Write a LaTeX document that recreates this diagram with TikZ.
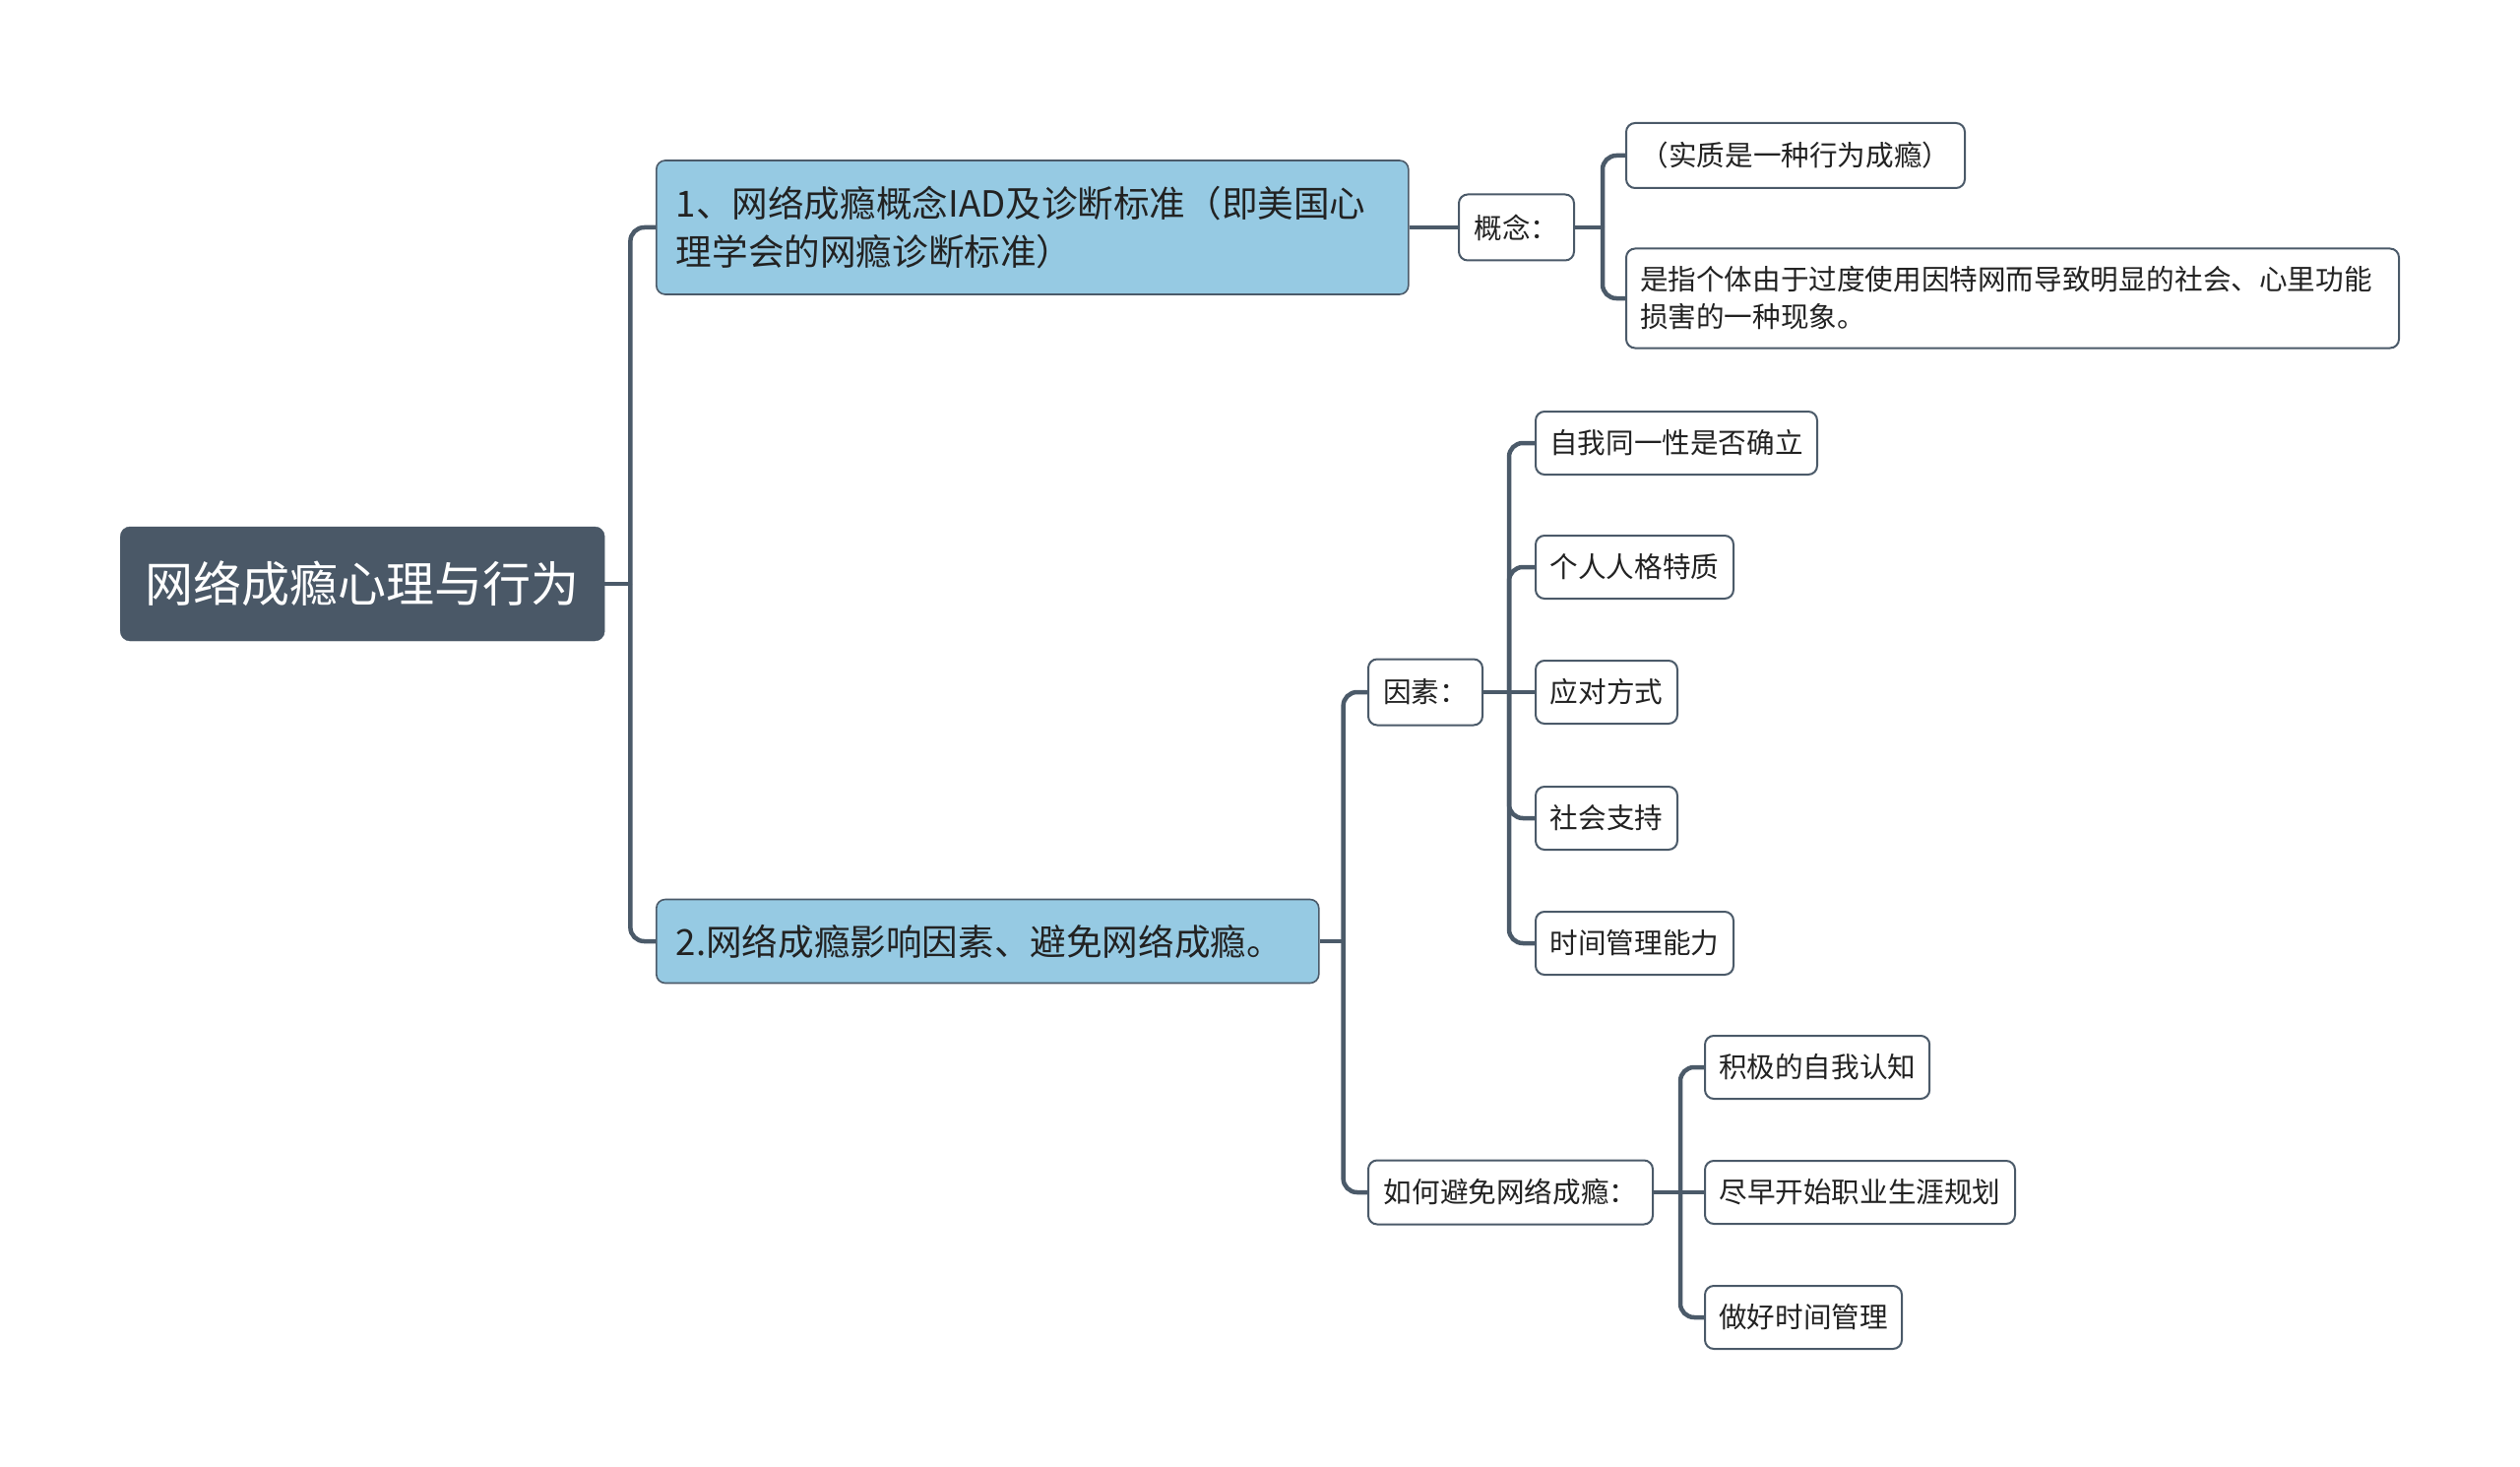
\documentclass[tikz,border=0pt]{standalone}
\usepackage{fontspec}
\setmainfont{Noto Sans CJK SC}
\definecolor{edge}{HTML}{4B5A69}
\definecolor{rootfill}{HTML}{4A5867}
\definecolor{lblue}{HTML}{96CAE3}
\definecolor{txt}{HTML}{222222}
\begin{document}
\begin{tikzpicture}[x=1pt,y=-1pt,
  rootbox/.style={fill=rootfill, draw=rootfill, rounded corners=10pt, text=white,
    font=\fontsize{49}{59}\selectfont, minimum width=492pt, minimum height=116pt,
    inner sep=0pt, anchor=west},
  lonebox/.style={fill=lblue, draw=edge, line width=1.6pt, rounded corners=9pt,
    font=\fontsize{36.6}{49}\selectfont, align=left, anchor=west, inner xsep=20pt,
    inner ysep=0pt, text=txt},
  leaf/.style={fill=white, draw=edge, line width=2pt, rounded corners=9pt,
    font=\fontsize{28.6}{38}\selectfont, anchor=west, inner xsep=14pt, inner ysep=0pt,
    minimum height=64pt, text=txt},
  conn/.style={draw=edge, line width=4.5pt, rounded corners=14pt}
]
\useasboundingbox[fill=white] (0,0) rectangle (2560,1490);
\begin{scope}[yshift=-3pt]
% nodes
\node[rootbox] (root) at (122,590) {网络成瘾心理与行为};
\node[lonebox, text width=724pt, minimum height=136pt] (n1) at (666,228)
  {1、网络成瘾概念IAD及诊断标准（即美国心\\理学会的网瘾诊断标准）};
\node[lonebox, text width=633pt, minimum height=85pt] (n2) at (666,953)
  {2.网络成瘾影响因素、避免网络成瘾。};

\node[leaf, minimum width=117pt, minimum height=67pt] (gn) at (1481,228) {概念：};
\node[leaf, minimum width=344pt, minimum height=66pt] (g1) at (1651,155) {（实质是一种行为成瘾）};
\node[leaf, text width=757pt, minimum height=101pt, align=left] (g2) at (1651,300)
  {是指个体由于过度使用因特网而导致明显的社会、心里功能\\损害的一种现象。};

\node[leaf, minimum width=116pt, minimum height=67pt] (ys) at (1389,700) {因素：};
\node[leaf, minimum width=286pt] (f1) at (1559,447) {自我同一性是否确立};
\node[leaf, minimum width=201pt] (f2) at (1559,573) {个人人格特质};
\node[leaf, minimum width=144pt] (f3) at (1559,700) {应对方式};
\node[leaf, minimum width=144pt] (f4) at (1559,828) {社会支持};
\node[leaf, minimum width=201pt] (f5) at (1559,955) {时间管理能力};

\node[leaf, minimum width=289pt, minimum height=65pt] (rh) at (1389,1208) {如何避免网络成瘾：};
\node[leaf, minimum width=228pt] (h1) at (1731,1081) {积极的自我认知};
\node[leaf, minimum width=315pt] (h2) at (1731,1208) {尽早开始职业生涯规划};
\node[leaf, minimum width=200pt] (h3) at (1731,1335) {做好时间管理};

% connectors
\coordinate (t0) at ([xshift=26pt]root.east);
\draw[conn] (root.east) -- (t0);
\draw[conn] (t0) |- (n1.west);
\draw[conn] (t0) |- (n2.west);

\draw[conn] (n1.east) -- (gn.west);
\coordinate (t1) at ([xshift=28pt]gn.east);
\draw[conn] (gn.east) -- (t1);
\draw[conn] (t1) |- (g1.west);
\draw[conn] (t1) |- (g2.west);

\coordinate (t2) at ([xshift=24pt]n2.east);
\draw[conn] (n2.east) -- (t2);
\draw[conn] (t2) |- (ys.west);
\draw[conn] (t2) |- (rh.west);

\coordinate (t3) at ([xshift=26pt]ys.east);
\draw[conn] (ys.east) -- (f3.west);
\draw[conn] (t3) |- (f1.west);
\draw[conn] (t3) |- (f2.west);
\draw[conn] (t3) |- (f4.west);
\draw[conn] (t3) |- (f5.west);

\coordinate (t4) at ([xshift=27pt]rh.east);
\draw[conn] (rh.east) -- (h2.west);
\draw[conn] (t4) |- (h1.west);
\draw[conn] (t4) |- (h3.west);
\end{scope}
\end{tikzpicture}
\end{document}
